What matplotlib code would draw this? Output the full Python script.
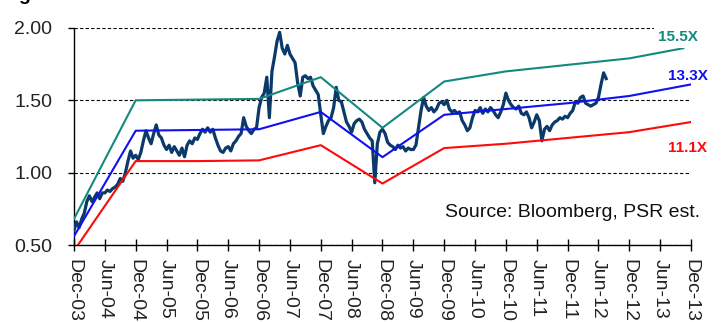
import numpy as N
import matplotlib
matplotlib.use('Agg')
import matplotlib.pyplot as plt

plt.rcParams['font.family'] = ['Liberation Sans', 'DejaVu Sans']

# x axis: months counted from Dec-03, a tick every 6 months
tick_months = list(range(0, 121, 6))
tick_labels = ['Dec-03', 'Jun-04', 'Dec-04', 'Jun-05', 'Dec-05', 'Jun-06',
               'Dec-06', 'Jun-07', 'Dec-07', 'Jun-08', 'Dec-08', 'Jun-09',
               'Dec-09', 'Jun-10', 'Dec-10', 'Jun-11', 'Dec-11', 'Jun-12',
               'Dec-12', 'Jun-13', 'Dec-13']

# P/E band lines (yearly points)
band_months = [0, 12, 24, 36, 48, 60, 72, 84, 96, 108, 120]
teal_months = [0, 12, 24, 36, 48, 60, 72, 84, 96, 108, 118.5]
band_155 = [0.68, 1.50, 1.505, 1.51, 1.66, 1.31, 1.63, 1.70, 1.745, 1.79, 1.86]
band_133 = [0.56, 1.29, 1.295, 1.30, 1.42, 1.107, 1.40, 1.44, 1.48, 1.53, 1.61]
band_111 = [0.46, 1.08, 1.08, 1.085, 1.19, 0.925, 1.17, 1.20, 1.24, 1.28, 1.35]

# share price, two readings per month from Dec-03
price = [
    # Dec-03 .. Nov-05
    0.60, 0.66, 0.62, 0.68, 0.72, 0.80, 0.84, 0.80, 0.83, 0.86, 0.82, 0.86,
    0.86, 0.88, 0.87, 0.89, 0.90, 0.92, 0.96, 0.94, 1.00, 1.08, 1.15, 1.10,
    1.12, 1.09, 1.14, 1.22, 1.29, 1.24, 1.20, 1.27, 1.33, 1.26, 1.24, 1.19,
    1.16, 1.19, 1.14, 1.18, 1.15, 1.12, 1.17, 1.11, 1.19, 1.22, 1.20, 1.24,
    # Dec-05 .. Nov-07
    1.23, 1.27, 1.30, 1.28, 1.31, 1.28, 1.30, 1.24, 1.19, 1.15, 1.14, 1.17,
    1.18, 1.15, 1.20, 1.22, 1.25, 1.27, 1.38, 1.32, 1.29, 1.27, 1.30, 1.31,
    1.45, 1.52, 1.55, 1.66, 1.38, 1.70, 1.80, 1.91, 1.97, 1.86, 1.82, 1.88,
    1.82, 1.79, 1.76, 1.62, 1.53, 1.66, 1.67, 1.65, 1.66, 1.60, 1.57, 1.54,
    # Dec-07 .. Nov-09
    1.40, 1.27, 1.32, 1.36, 1.38, 1.45, 1.59, 1.50, 1.49, 1.42, 1.35, 1.32,
    1.28, 1.34, 1.36, 1.37, 1.35, 1.30, 1.27, 1.24, 1.22, 0.93, 1.20, 1.28,
    1.30, 1.27, 1.21, 1.19, 1.18, 1.16, 1.19, 1.17, 1.18, 1.15, 1.17, 1.16,
    1.16, 1.19, 1.31, 1.43, 1.52, 1.46, 1.43, 1.45, 1.42, 1.44, 1.48, 1.49,
    # Dec-09 .. Nov-11
    1.47, 1.50, 1.44, 1.42, 1.43, 1.41, 1.42, 1.36, 1.33, 1.29, 1.31, 1.38,
    1.43, 1.42, 1.45, 1.41, 1.44, 1.42, 1.45, 1.43, 1.40, 1.38, 1.42, 1.47,
    1.55, 1.50, 1.47, 1.45, 1.44, 1.46, 1.41, 1.40, 1.42, 1.38, 1.31, 1.35,
    1.40, 1.36, 1.22, 1.30, 1.32, 1.29, 1.33, 1.35, 1.36, 1.38, 1.37, 1.39,
    # Dec-11 .. Aug-12
    1.38, 1.41, 1.43, 1.49, 1.48, 1.52, 1.53, 1.48, 1.47, 1.46, 1.47, 1.48,
    1.52, 1.61, 1.69, 1.65,
]
price_months = N.arange(len(price)) * 0.5

fig = plt.figure(figsize=(7.21, 3.22), dpi=100)
ax = fig.add_axes([0.1026, 0.2391, 0.8558, 0.674])

ax.plot(price_months, price, color='#0B3A6A', lw=2.3, zorder=3)
ax.plot(teal_months, band_155, color='#13897F', lw=1.5, zorder=4)
ax.plot(band_months, band_133, color='#1010F0', lw=1.5, zorder=4)
ax.plot(band_months, band_111, color='#FF0A0A', lw=1.5, zorder=4)

# band labels on the right
ax.text(121.4, 1.94, '15.5X', color='#13897F', fontsize=11, fontweight='bold',
        ha='right', va='center', clip_on=False, zorder=5,
        bbox=dict(facecolor='white', edgecolor='none', pad=3))
ax.text(123.2, 1.666, '13.3X', color='#1010F0', fontsize=11, fontweight='bold',
        ha='right', va='center', clip_on=False, zorder=5)
ax.text(123.2, 1.169, '11.1X', color='#FF0A0A', fontsize=11, fontweight='bold',
        ha='right', va='center', clip_on=False, zorder=5)

ax.text(121.8, 0.728, 'Source: Bloomberg, PSR est.', fontsize=14,
        color='#111111', ha='right', va='center')

# cropped title above the chart
fig.text(0.025, 1.0, 'g', fontsize=14, fontweight='bold', color='black',
         ha='left', va='baseline')

ax.set_xlim(0, 120)
ax.set_ylim(0.5, 2.0)
ax.set_yticks([0.5, 1.0, 1.5, 2.0])
ax.set_yticklabels(['0.50', '1.00', '1.50', '2.00'])
ax.set_xticks(tick_months)
ax.set_xticklabels(tick_labels, rotation=270)

ax.yaxis.grid(True, linestyle=(0, (3, 2)), color='black', lw=0.8)
for s in ['top', 'right']:
    ax.spines[s].set_visible(False)
ax.spines['left'].set_linewidth(1.0)
ax.spines['bottom'].set_linewidth(1.0)

ax.tick_params(axis='y', direction='out', length=4.5, width=1.0, pad=11,
               labelsize=14, labelcolor='#222222')
ax.tick_params(axis='x', direction='inout', length=8.5, width=1.0, pad=6,
               labelsize=14, labelcolor='#222222')

fig.savefig('out.png', dpi=100)
